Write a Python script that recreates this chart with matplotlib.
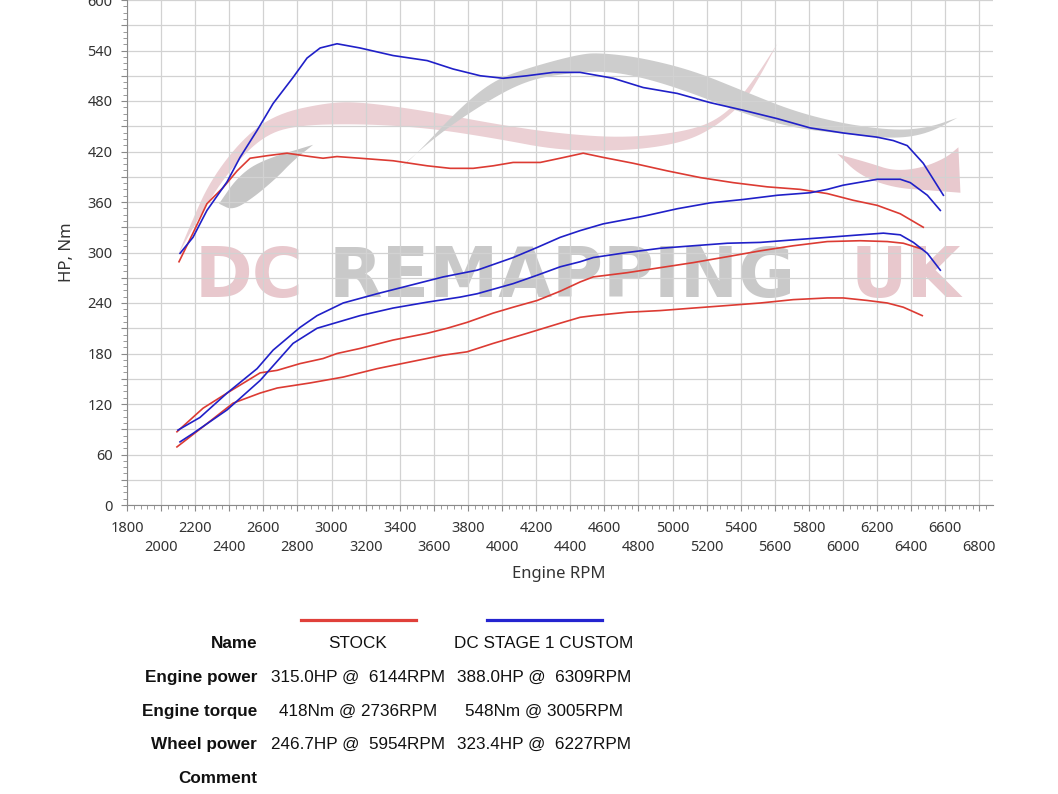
import numpy as np
import matplotlib.pyplot as plt
from matplotlib.lines import Line2D
from matplotlib.patches import Polygon

# ---- dyno curves (rpm, value) ----
stock_torque_rpm = [2105, 2187, 2269, 2363, 2446, 2522, 2622, 2739, 2874, 2950, 3032, 3167, 3361,
                    3561, 3696, 3831, 3948, 4065, 4224, 4341, 4476, 4593, 4770, 4969, 5163, 5356,
                    5556, 5749, 5908, 6061, 6201, 6336, 6471]
stock_torque = [289, 323, 358, 377, 397, 412, 415, 418, 414, 412, 414, 412, 409,
                403, 400, 400, 403, 407, 407, 412, 418, 413, 406, 397, 389, 383,
                378, 375, 370, 362, 356, 346, 330]

stage1_torque_rpm = [2111, 2187, 2269, 2387, 2463, 2563, 2657, 2774, 2856, 2933, 3032, 3167, 3361,
                     3561, 3713, 3872, 4006, 4147, 4300, 4458, 4652, 4828, 5028, 5222, 5415,
                     5615, 5808, 6002, 6201, 6295, 6377, 6471, 6589]
stage1_torque = [299, 318, 350, 384, 413, 445, 477, 508, 531, 543, 548, 543, 534,
                 528, 518, 510, 507, 510, 514, 514, 507, 496, 489, 478, 469,
                 459, 448, 442, 437, 433, 427, 406, 368]

stage1_power_rpm = [2099, 2228, 2387, 2563, 2657, 2815, 2915, 3068, 3267, 3461, 3655, 3854, 4065,
                    4206, 4341, 4458, 4593, 4828, 5028, 5222, 5415, 5615, 5808, 5908, 6002,
                    6201, 6336, 6395, 6495, 6571]
stage1_power = [89, 104, 133, 162, 184, 211, 225, 240, 251, 261, 271, 279, 294,
                306, 318, 326, 334, 343, 352, 359, 363, 368, 371, 375, 380,
                387, 387, 383, 368, 350]

stage1_wheel_rpm = [2111, 2187, 2387, 2581, 2774, 2915, 3167, 3361, 3561, 3754, 3854, 4065, 4206,
                    4341, 4458, 4535, 4734, 4928, 5122, 5321, 5515, 5708, 5908, 6102, 6237,
                    6336, 6413, 6495, 6571]
stage1_wheel = [75, 85, 113, 148, 192, 210, 225, 234, 241, 247, 251, 263, 273,
                283, 289, 294, 300, 305, 308, 311, 312, 315, 318, 321, 323,
                321, 312, 299, 279]

stock_power_rpm = [2093, 2246, 2387, 2581, 2681, 2815, 2950, 3032, 3167, 3361, 3561, 3678, 3795,
                   3948, 4065, 4206, 4341, 4458, 4535, 4734, 4928, 5122, 5321, 5515, 5708,
                   5908, 6102, 6260, 6354, 6465]
stock_power = [87, 115, 133, 157, 160, 168, 174, 180, 186, 196, 204, 210, 217,
               228, 235, 243, 254, 265, 271, 276, 282, 288, 295, 302, 308,
               313, 314, 313, 311, 304]

stock_wheel_rpm = [2093, 2246, 2422, 2581, 2681, 2874, 3068, 3267, 3461, 3655, 3795, 3948, 4147,
                   4341, 4458, 4535, 4734, 4928, 5122, 5321, 5515, 5708, 5908, 6002, 6143,
                   6260, 6354, 6465]
stock_wheel = [69, 93, 121, 133, 139, 145, 152, 162, 170, 178, 182, 192, 204,
               216, 223, 225, 229, 231, 234, 237, 240, 244, 246, 246, 243,
               240, 235, 225]

# ---- summary table ----
run_names = ["STOCK", "DC STAGE 1 CUSTOM"]
row_names = ["Name", "Engine power", "Engine torque", "Wheel power", "Comment"]
engine_power = ["315.0HP @  6144RPM", "388.0HP @  6309RPM"]
engine_torque = ["418Nm @ 2736RPM", "548Nm @ 3005RPM"]
wheel_power = ["246.7HP @  5954RPM", "323.4HP @  6227RPM"]
comments = ["", ""]

RED = '#dc3b33'
BLUE = '#2020c8'

# ---- watermark outlines (rpm, value), upper and lower edge ----
pink_swoosh_top = [(2099, 297), (2170, 332), (2287, 385), (2481, 436), (2680, 465), (2974, 478),
                   (3167, 479), (3561, 468), (3948, 453), (4341, 441), (4735, 436), (5122, 445),
                   (5321, 465), (5474, 504), (5615, 548)]
pink_swoosh_bot = [(2099, 297), (2228, 344), (2387, 394), (2581, 436), (2774, 451), (3167, 453),
                   (3561, 448), (3948, 436), (4341, 421), (4735, 421), (5028, 429), (5222, 445),
                   (5415, 477), (5515, 510), (5615, 548)]
gray_swoosh_top = [(3402, 401), (3479, 413), (3754, 472), (3948, 504), (4148, 519), (4459, 536),
                   (4594, 537), (4828, 531), (5122, 516), (5415, 492), (5709, 468), (6002, 453),
                   (6296, 445), (6495, 448), (6671, 460)]
gray_swoosh_bot = [(3402, 401), (3655, 445), (3948, 484), (4148, 504), (4341, 512), (4594, 516),
                   (4828, 508), (5122, 489), (5415, 465), (5709, 448), (6002, 441), (6296, 435),
                   (6495, 441), (6671, 460)]
small_gray_top = [(2340, 358), (2446, 389), (2581, 409), (2892, 428)]
small_gray_bot = [(2340, 358), (2420, 350), (2540, 365), (2680, 389), (2774, 409), (2892, 428)]
pink_tail_top = [(5967, 417), (6161, 406), (6296, 397), (6454, 400), (6601, 412), (6677, 425)]
pink_tail_bot = [(5967, 417), (6102, 391), (6296, 377), (6495, 374), (6689, 371)]


def chaikin(pts, n=3):
    pts = np.asarray(pts, float)
    for _ in range(n):
        q = 0.75 * pts[:-1] + 0.25 * pts[1:]
        r = 0.25 * pts[:-1] + 0.75 * pts[1:]
        mid = np.empty((2 * len(q), 2))
        mid[0::2] = q
        mid[1::2] = r
        pts = np.vstack([pts[:1], mid, pts[-1:]])
    return pts


def band(ax, top, bot, color):
    poly = np.vstack([chaikin(top), chaikin(bot)[::-1]])
    ax.add_patch(Polygon(poly, closed=True, facecolor=color, edgecolor='none', zorder=0.2))


W, H = 1058, 794
fig = plt.figure(figsize=(W / 100, H / 100), dpi=100)
ax = fig.add_axes([127 / W, 1 - 505 / H, (993 - 127) / W, 505 / H])
ax.set_xlim(1800, 6880)
ax.set_ylim(0, 600)

# watermark
band(ax, pink_swoosh_top, pink_swoosh_bot, '#ebd0d4')
band(ax, gray_swoosh_top, gray_swoosh_bot, '#cdcdcd')
band(ax, small_gray_top, small_gray_bot, '#c6c6c6')
band(ax, pink_tail_top, pink_tail_bot, '#e8c9ce')
wm = dict(fontsize=50, fontweight='bold', family='DejaVu Sans', va='baseline', ha='left', zorder=0.2)
ax.text(2199, 247, "DC", color='#e8c8cd', **wm)
ax.text(2980, 247, "REMAPPING", color='#c9c9c9', **wm)
ax.text(6043, 247, "UK", color='#e8c8cd', **wm)

# curves
ax.plot(stock_torque_rpm, stock_torque, color=RED, lw=1.2, zorder=2)
ax.plot(stock_power_rpm, stock_power, color=RED, lw=1.2, zorder=2)
ax.plot(stock_wheel_rpm, stock_wheel, color=RED, lw=1.2, zorder=2)
ax.plot(stage1_torque_rpm, stage1_torque, color=BLUE, lw=1.2, zorder=3)
ax.plot(stage1_power_rpm, stage1_power, color=BLUE, lw=1.2, zorder=3)
ax.plot(stage1_wheel_rpm, stage1_wheel, color=BLUE, lw=1.2, zorder=3)

# axes styling
xt = np.arange(1800, 6801, 200)
xlabels = [str(v) if (v - 1800) % 400 == 0 else "\n" + str(v) for v in xt]
ax.set_xticks(xt, xlabels)
ax.set_xticks(np.arange(1800, 6880, 40), minor=True)
yt = np.arange(0, 601, 30)
ax.set_yticks(yt, [str(v) if v % 60 == 0 else "" for v in yt])
ax.set_yticks(np.arange(0, 600.1, 7.5), minor=True)

ax.set_axisbelow(True)
ax.grid(True, which='major', color='#d2d2d2', lw=0.9)
for s in ['top', 'right']:
    ax.spines[s].set_visible(False)
for s in ['left', 'bottom']:
    ax.spines[s].set_color('#8a8a8a')

ax.tick_params(which='major', direction='out', length=4.5, width=0.8, color='#8a8a8a',
               labelsize=10.5, labelcolor='#333333')
ax.tick_params(which='minor', direction='out', length=3, width=0.6, color='#8a8a8a')
ax.tick_params(axis='x', which='major', pad=7)
ax.tick_params(axis='y', which='major', pad=6)
for lbl in ax.get_xticklabels() + ax.get_yticklabels():
    lbl.set_family('Noto Sans')
for lbl in ax.get_xticklabels():
    lbl.set_linespacing(1.35)

ax.set_xlabel("Engine RPM", fontsize=12, color='#333333', family='Noto Sans')
ax.xaxis.set_label_coords(0.499, -0.121)
ax.set_ylabel("HP, Nm", fontsize=12, color='#333333', family='Noto Sans')
ax.yaxis.set_label_coords(-0.06, 0.5)

# legend / summary table below the chart
fig.add_artist(Line2D([301 / W, 416 / W], [1 - 620 / H] * 2, color='#e0403a', lw=2.3,
                      transform=fig.transFigure))
fig.add_artist(Line2D([487 / W, 602 / W], [1 - 620 / H] * 2, color='#2424d0', lw=2.3,
                      transform=fig.transFigure))

row_base = [648, 682, 716, 749, 783]
col_x = [358, 544]
values = [run_names, engine_power, engine_torque, wheel_power, comments]
for name, yb, vals in zip(row_names, row_base, values):
    fig.text(257 / W, 1 - yb / H, name, ha='right', va='baseline', fontsize=12.3,
             fontweight='bold', family='Liberation Sans', color='#111111')
    for cx, v in zip(col_x, vals):
        fig.text(cx / W, 1 - yb / H, v, ha='center', va='baseline', fontsize=12.3,
                 family='Liberation Sans', color='#111111')

fig.savefig('out.png', dpi=100, facecolor='white')
